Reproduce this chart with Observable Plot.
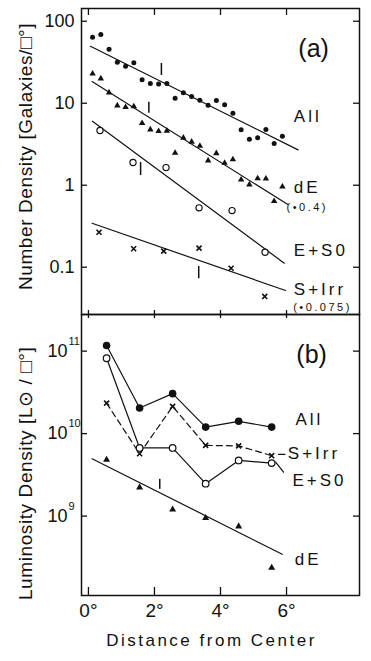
<!DOCTYPE html>
<html>
<head>
<meta charset="utf-8">
<script src="https://cdn.jsdelivr.net/npm/d3@7"></script>
<script src="https://cdn.jsdelivr.net/npm/@observablehq/plot@0.6"></script>
<style>
  body { margin: 0; background: #fff; }
  #wrap { position: relative; width: 371px; height: 661px; overflow: hidden; }
  #wrap svg { position: absolute; left: 0; }
</style>
</head>
<body>
<div id="wrap"></div>
<script>
// ---------- data ----------
const xTicks = [0, 2, 4, 6];
const xTickLabels = ["0°", "2°", "4°", "6°"];
const yTicksA = [100, 10, 1, 0.1];
const yTickLabelsA = ["100", "10", "1", "0.1"];
const yTicksB = [1e11, 1e10, 1e9];
const yTickBaseB = ["10", "10", "10"];
const yTickExpB = ["11", "10", "9"];

// Panel (a): number density, radial bins (degrees)
const binsFine = [0.125, 0.375, 0.625, 0.875, 1.125, 1.375, 1.625, 1.875, 2.125, 2.375, 2.625, 2.875,
                  3.125, 3.375, 3.625, 3.875, 4.125, 4.375, 4.625, 4.875, 5.125, 5.375, 5.625, 5.875];
const allNumber = [63.8, 68.9, 45.6, 31.6, 28.2, 31.1, 19.3, 17.4, 17.1, 17.4, 11.5, 13.4,
                   12.1, 10.9, 9.46, 10.8, 9.55, 7.55, 4.74, 3.63, 3.78, 4.78, 3.23, 3.96];
const dENumber = [22.9, 20.0, 13.5, 9.37, 8.93, 9.12, 5.70, 4.77, 4.56, 4.61, 2.48, 3.79,
                  3.38, 3.02, 2.0, 2.45, 1.87, 2.06, 1.17, 1.02, 1.21, 1.20, 0.64, 0.96];
const es0BinsA = [0.35, 1.35, 2.35, 3.35, 4.35, 5.35];
const es0Number = [4.64, 1.89, 1.64, 0.53, 0.49, 0.152];
const sirrBinsA = [0.32, 1.37, 2.28, 3.35, 4.32, 5.34];
const sirrNumber = [0.267, 0.168, 0.157, 0.171, 0.097, 0.044];

// fitted power-law lines in (a): end points
const fitAllX = [0.06, 6.35],  fitAllY = [49.5, 2.7];
const fitDEX = [0.11, 6.04],   fitDEY = [18.4, 0.58];
const fitES0X = [0.12, 5.93],  fitES0Y = [6.03, 0.112];
const fitSIrrX = [0.11, 5.97], fitSIrrY = [0.344, 0.052];

// small vertical bars (core radius markers) in (a)
const barAX = [2.21, 1.83, 1.58, 3.34];
const barALo = [21.8, 7.55, 1.31, 0.0723];
const barAHi = [30.5, 10.3, 1.89, 0.102];

// Panel (b): luminosity density
const binsB = [0.55, 1.55, 2.55, 3.55, 4.55, 5.55];
const allLum = [1.17e11, 2.04e10, 3.05e10, 1.2e10, 1.41e10, 1.2e10];
const es0Lum = [8.2e10, 6.7e9, 6.7e9, 2.47e9, 4.73e9, 4.39e9];
const sirrLum = [2.34e10, 5.7e9, 2.14e10, 7.2e9, 7.1e9, 5.4e9];
const dELum = [4.83e9, 2.23e9, 1.2e9, 9.46e8, 7.5e8, 2.37e8];
const fitDEBX = [0.11, 5.87], fitDEBY = [4.97e9, 3.44e8];
const barBX = [2.16], barBLo = [2.11e9], barBHi = [2.79e9];

// labels
const labelsA = ["All", "dE", "E+S0", "S+Irr"];
const labelsAX = [6.22, 6.22, 6.22, 6.22];
const labelsAY = [6.88, 0.946, 0.16, 0.053];
const notesA = ["(•0.4)", "(•0.075)"];
const notesAX = [6.0, 6.2];
const notesAY = [0.54, 0.0325];
const labelsB = ["All", "S+Irr", "E+S0", "dE"];
const labelsBX = [6.27, 6.04, 6.18, 6.25];
const labelsBY = [1.47e10, 5.7e9, 2.71e9, 2.99e8];
const leaderSIrrX = [5.76, 5.95], leaderSIrrY = [5.6e9, 5.6e9];
const leaderES0X = [5.67, 5.91],  leaderES0Y = [4.52e9, 3.41e9];

const panelTagA = "(a)", panelTagAX = 6.82, panelTagAY = 45.8;
const panelTagB = "(b)", panelTagBX = 6.76, panelTagBY = 8.87e10;
const yTitleA = "Number Density [Galaxies/□°]", yTitleAY = 2.24;
const yTitleB = "Luminosity Density [L⊙ / □°]", yTitleBY = 3.3e9;
const xTitle = "Distance from Center";

// ---------- helpers ----------
const pts = (xs, ys) => xs.map((x, i) => ({x, y: ys[i]}));
const font = "'Liberation Sans', Arial, Helvetica, sans-serif";
const xDomain = [-0.21, 8.21];
const W = 371, ML = 81, MR = 12;
const innerW = W - ML - MR;

// ---------- panel (a) ----------
const hA = 320, mtA = 8, mbA = 6, innerHA = hA - mtA - mbA;
const plotA = Plot.plot({
  width: W, height: hA, marginTop: mtA, marginBottom: mbA, marginLeft: ML, marginRight: MR,
  style: {background: "transparent", fontFamily: font, fontSize: "18px", color: "#111", overflow: "visible"},
  x: {domain: xDomain, axis: null},
  y: {type: "log", domain: [0.0265, 143], axis: null},
  marks: [
    Plot.frame({stroke: "#111", strokeWidth: 1.5}),
    Plot.tickX(xTicks, {x: d => d, insetBottom: innerHA - 7, stroke: "#111", strokeWidth: 1.3}),
    Plot.tickX(xTicks, {x: d => d, insetTop: innerHA - 4, stroke: "#111", strokeWidth: 1.3}),
    Plot.tickY(yTicksA, {y: d => d, insetRight: innerW - 6, stroke: "#111", strokeWidth: 1.3}),
    Plot.tickY(yTicksA, {y: d => d, insetLeft: innerW - 6, stroke: "#111", strokeWidth: 1.3}),
    Plot.text(yTicksA, {y: d => d, text: (d, i) => yTickLabelsA[i], frameAnchor: "left", textAnchor: "end", dx: -7, fontSize: 18, fill: "#111"}),
    // fit lines
    Plot.line(pts(fitAllX, fitAllY), {x: "x", y: "y", stroke: "#111", strokeWidth: 1.2}),
    Plot.line(pts(fitDEX, fitDEY), {x: "x", y: "y", stroke: "#111", strokeWidth: 1.2}),
    Plot.line(pts(fitES0X, fitES0Y), {x: "x", y: "y", stroke: "#111", strokeWidth: 1.2}),
    Plot.line(pts(fitSIrrX, fitSIrrY), {x: "x", y: "y", stroke: "#111", strokeWidth: 1.2}),
    // core radius bars
    Plot.ruleX(barAX.map((x, i) => ({x, lo: barALo[i], hi: barAHi[i]})), {x: "x", y1: "lo", y2: "hi", stroke: "#111", strokeWidth: 1.5}),
    // points
    Plot.dot(pts(binsFine, allNumber), {x: "x", y: "y", r: 2.5, fill: "#111", stroke: "none"}),
    Plot.dot(pts(binsFine, dENumber), {x: "x", y: "y", r: 2.4, symbol: "triangle", fill: "#111", stroke: "none"}),
    Plot.dot(pts(es0BinsA, es0Number), {x: "x", y: "y", r: 3.1, fill: "white", stroke: "#111", strokeWidth: 1.2}),
    Plot.dot(pts(sirrBinsA, sirrNumber), {x: "x", y: "y", r: 2.4, symbol: "times", stroke: "#111", strokeWidth: 1.6}),
    // labels
    Plot.text(labelsA, {x: (d, i) => labelsAX[i], y: (d, i) => labelsAY[i], text: d => d, textAnchor: "start", fontSize: 17, fill: "#111"}),
    Plot.text(notesA, {x: (d, i) => notesAX[i], y: (d, i) => notesAY[i], text: d => d, textAnchor: "start", fontSize: 11, fill: "#111"}),
    Plot.text([panelTagA], {x: () => panelTagAX, y: () => panelTagAY, text: d => d, fontSize: 25, fill: "#111"}),
    Plot.text([yTitleA], {y: () => yTitleAY, frameAnchor: "left", textAnchor: "middle", rotate: -90, dx: -56, text: d => d, fontSize: 19, fill: "#111"})
  ]
});

// ---------- panel (b) ----------
const hB = 353, mtB = 6, mbB = 66, innerHB = hB - mtB - mbB;
const plotB = Plot.plot({
  width: W, height: hB, marginTop: mtB, marginBottom: mbB, marginLeft: ML, marginRight: MR,
  style: {background: "transparent", fontFamily: font, fontSize: "19px", color: "#111", overflow: "visible"},
  x: {domain: xDomain, ticks: xTicks, tickFormat: d => xTickLabels[xTicks.indexOf(d)], tickSize: 0, tickPadding: 8, label: null},
  y: {type: "log", domain: [1.09e8, 2.78e11], axis: null},
  marks: [
    Plot.frame({stroke: "#111", strokeWidth: 1.5}),
    Plot.tickX(xTicks, {x: d => d, insetBottom: innerHB - 4, stroke: "#111", strokeWidth: 1.3}),
    Plot.tickX(xTicks, {x: d => d, insetTop: innerHB - 8, stroke: "#111", strokeWidth: 1.3}),
    Plot.tickY(yTicksB, {y: d => d, insetRight: innerW - 6, stroke: "#111", strokeWidth: 1.3}),
    Plot.tickY(yTicksB, {y: d => d, insetLeft: innerW - 6, stroke: "#111", strokeWidth: 1.3}),
    Plot.text(yTicksB, {y: d => d, text: (d, i) => yTickBaseB[i], frameAnchor: "left", textAnchor: "end", dx: -14, fontSize: 18, fill: "#111"}),
    Plot.text(yTicksB, {y: d => d, text: (d, i) => yTickExpB[i], frameAnchor: "left", textAnchor: "start", dx: -13, dy: -10, fontSize: 11, fill: "#111"}),
    // dE fit
    Plot.line(pts(fitDEBX, fitDEBY), {x: "x", y: "y", stroke: "#111", strokeWidth: 1.2}),
    Plot.ruleX(barBX.map((x, i) => ({x, lo: barBLo[i], hi: barBHi[i]})), {x: "x", y1: "lo", y2: "hi", stroke: "#111", strokeWidth: 1.5}),
    // connecting lines
    Plot.line(pts(binsB, allLum), {x: "x", y: "y", stroke: "#111", strokeWidth: 1.2}),
    Plot.line(pts(binsB, es0Lum), {x: "x", y: "y", stroke: "#111", strokeWidth: 1.2}),
    Plot.line(pts(binsB, sirrLum), {x: "x", y: "y", stroke: "#111", strokeWidth: 1.2, strokeDasharray: "6,4"}),
    // leaders
    Plot.line(pts(leaderSIrrX, leaderSIrrY), {x: "x", y: "y", stroke: "#111", strokeWidth: 1.2}),
    Plot.line(pts(leaderES0X, leaderES0Y), {x: "x", y: "y", stroke: "#111", strokeWidth: 1.2}),
    // points
    Plot.dot(pts(binsB, allLum), {x: "x", y: "y", r: 3.8, fill: "#111", stroke: "none"}),
    Plot.dot(pts(binsB, es0Lum), {x: "x", y: "y", r: 3.3, fill: "white", stroke: "#111", strokeWidth: 1.2}),
    Plot.dot(pts(binsB, sirrLum), {x: "x", y: "y", r: 2.4, symbol: "times", stroke: "#111", strokeWidth: 1.6}),
    Plot.dot(pts(binsB, dELum), {x: "x", y: "y", r: 2.6, symbol: "triangle", fill: "#111", stroke: "none"}),
    // labels
    Plot.text(labelsB, {x: (d, i) => labelsBX[i], y: (d, i) => labelsBY[i], text: d => d, textAnchor: "start", fontSize: 17, fill: "#111"}),
    Plot.text([panelTagB], {x: () => panelTagBX, y: () => panelTagBY, text: d => d, fontSize: 25, fill: "#111"}),
    Plot.text([yTitleB], {y: () => yTitleBY, frameAnchor: "left", textAnchor: "middle", rotate: -90, dx: -56, text: d => d, fontSize: 19, fill: "#111"}),
    Plot.text([xTitle], {frameAnchor: "bottom", textAnchor: "middle", dy: 50, dx: -9, text: d => d, fontSize: 17, fill: "#111"})
  ]
});

// letter spacing of the typeset labels
function spaceOut(svg, strings, px) {
  d3.select(svg).selectAll("text")
    .filter(function () { return strings.includes(this.textContent); })
    .attr("letter-spacing", px + "px");
}
spaceOut(plotA, labelsA, 3);
spaceOut(plotB, labelsB, 3);
spaceOut(plotA, notesA, 2.5);
spaceOut(plotB, [xTitle], 2.5);
spaceOut(plotA, [yTitleA], 0.6);
spaceOut(plotB, [yTitleB], 0.6);

const wrap = document.getElementById("wrap");
plotA.style.top = "0px";
plotB.style.top = (mtA + innerHA - mtB) + "px";
wrap.appendChild(plotA);
wrap.appendChild(plotB);
</script>
</body>
</html>
